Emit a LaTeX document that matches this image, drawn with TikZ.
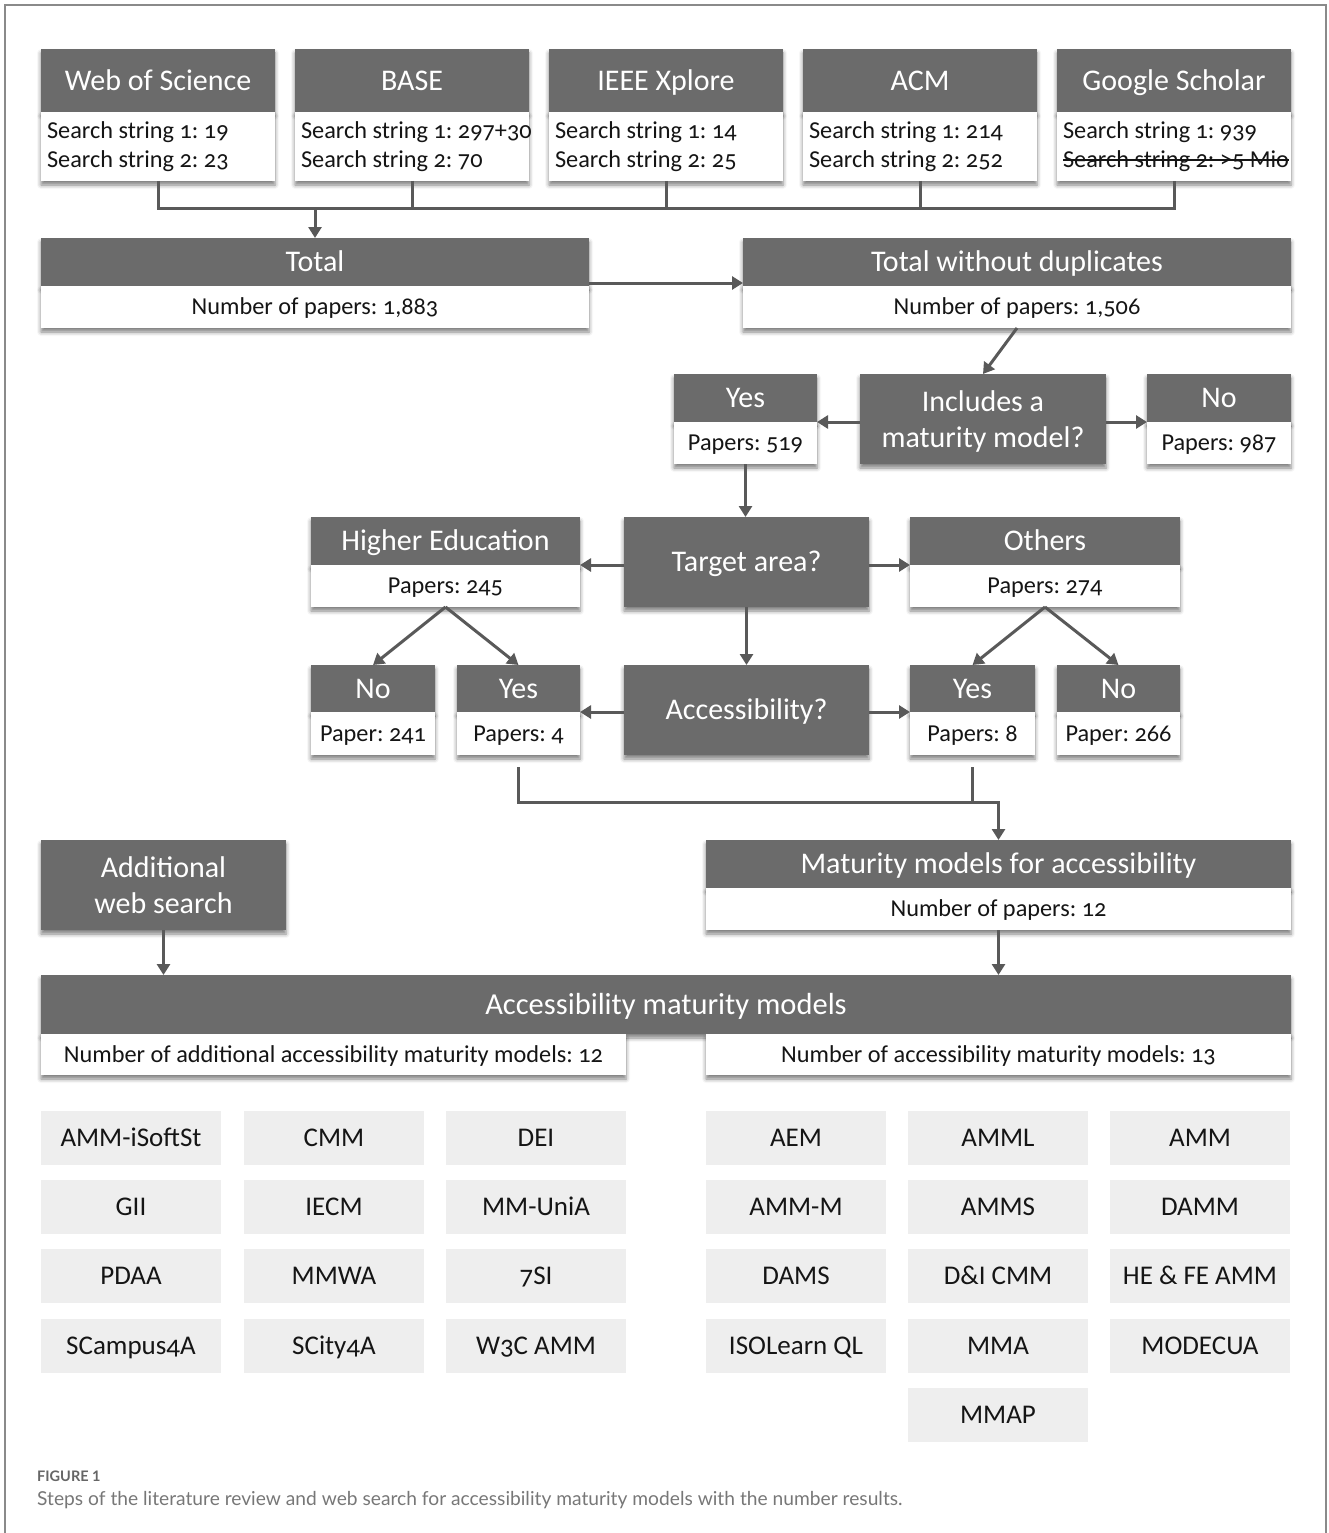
\documentclass[tikz,border=0pt]{standalone}
\usepackage{fontspec}
\setmainfont{Carlito}[Numbers=OldStyle]
\newfontfamily\capfont{Lato}
\newcommand\mystrike[1]{\leavevmode\setbox0\hbox{#1}\rlap{\rule[0.27em]{\wd0}{1.3pt}}\box0}
\frenchspacing
\usetikzlibrary{arrows.meta,shadows.blur}
\definecolor{hdrc}{HTML}{6B6B6B}
\definecolor{linec}{HTML}{595959}
\definecolor{gridc}{HTML}{EEEEEE}
\definecolor{framec}{HTML}{8A8A8A}
\definecolor{txtc}{HTML}{151515}
\definecolor{capc}{HTML}{777777}
\definecolor{figc}{HTML}{666666}
\tikzset{
 box/.style={inner sep=0pt, outer sep=0pt, anchor=north west},
 shad/.style={blur shadow={shadow xshift=0pt, shadow yshift=-4pt, shadow blur radius=4pt, shadow opacity=50}},
 hdr/.style={box, shad, fill=hdrc, text=white, align=center, font=\fontsize{30}{36}\selectfont},
 one/.style={text height=19.3pt, text depth=0pt},
 bdy/.style={box, shad, fill=white, text=txtc, align=center, font=\fontsize{24.3}{29}\selectfont},
 bone/.style={text height=15.6pt, text depth=0pt},
 gbox/.style={box, fill=gridc, text=txtc, minimum width=180pt, minimum height=54pt, text height=17.4pt, text depth=0pt, font=\fontsize{27}{30}\selectfont},
 conn/.style={draw=linec, line width=3pt},
 arr/.style={conn, -{Triangle[length=11pt,width=13pt]}},
 src/.style={bdy, minimum width=234pt, minimum height=69pt, text width=226pt, inner xsep=4pt, align=flush left},
}
\begin{document}
\begin{tikzpicture}[x=1pt,y=-1pt]
\useasboundingbox (0,0) rectangle (1328,1533);
\draw[framec, line width=1.5pt] (5,1540) -- (5,5) -- (1326,5) -- (1326,1540);

% top sources
\foreach \nm/\x/\ttl in {wos/41/Web of Science, base/295/BASE, ieee/549/IEEE Xplore, acm/803/ACM, gs/1057/Google Scholar}{
  \node[hdr, one, minimum width=234pt, minimum height=63pt] (\nm H) at (\x,49) {\ttl};
}
\node[src] (wosB) at (wosH.south west) {\hspace*{2pt}Search string 1: 19\\\hspace*{2pt}Search string 2: 23};
\node[src] (baseB) at (baseH.south west) {\hspace*{2pt}\mbox{Search string 1: 297+30}\\\hspace*{2pt}Search string 2: 70};
\node[src] (ieeeB) at (ieeeH.south west) {\hspace*{2pt}Search string 1: 14\\\hspace*{2pt}Search string 2: 25};
\node[src] (acmB) at (acmH.south west) {\hspace*{2pt}Search string 1: 214\\\hspace*{2pt}Search string 2: 252};
\node[src] (gsB) at (gsH.south west) {\hspace*{2pt}Search string 1: 939\\\hspace*{2pt}\mystrike{Search string 2: >5 Mio}};

% totals
\node[hdr, one, minimum width=548pt, minimum height=48pt] (totH) at (41,238) {Total};
\node[bdy, bone, minimum width=548pt, minimum height=42pt] (totB) at (totH.south west) {Number of papers: 1,883};
\node[hdr, one, minimum width=548pt, minimum height=48pt] (twdH) at (743,238) {Total without duplicates};
\node[bdy, bone, minimum width=548pt, minimum height=42pt] (twdB) at (twdH.south west) {Number of papers: 1,506};

% includes a maturity model
\node[hdr, minimum width=246pt, minimum height=90pt] (inc) at (860,374) {Includes a\\\raisebox{0pt}[\height][0pt]{maturity model?}};
\node[hdr, one, minimum width=143pt, minimum height=48pt] (y519H) at (674,374) {Yes};
\node[bdy, bone, minimum width=143pt, minimum height=42pt] (y519B) at (y519H.south west) {Papers: 519};
\node[hdr, one, minimum width=144pt, minimum height=48pt] (n987H) at (1147,374) {No};
\node[bdy, bone, minimum width=144pt, minimum height=42pt] (n987B) at (n987H.south west) {Papers: 987};

% target area
\node[hdr, one, minimum width=245pt, minimum height=90pt] (tgt) at (624,517) {Target area?};
\node[hdr, one, minimum width=269pt, minimum height=48pt] (heH) at (311,517) {Higher Education};
\node[bdy, bone, minimum width=269pt, minimum height=42pt] (heB) at (heH.south west) {Papers: 245};
\node[hdr, one, minimum width=270pt, minimum height=48pt] (othH) at (910,517) {Others};
\node[bdy, bone, minimum width=270pt, minimum height=42pt] (othB) at (othH.south west) {Papers: 274};

% accessibility
\node[hdr, one, minimum width=245pt, minimum height=90pt] (acc) at (624,665) {Accessibility?};
\node[hdr, one, minimum width=124pt, minimum height=47pt] (n241H) at (311,665) {No};
\node[bdy, bone, minimum width=124pt, minimum height=43pt] (n241B) at (n241H.south west) {Paper: 241};
\node[hdr, one, minimum width=123pt, minimum height=47pt] (y4H) at (457,665) {Yes};
\node[bdy, bone, minimum width=123pt, minimum height=43pt] (y4B) at (y4H.south west) {Papers: 4};
\node[hdr, one, minimum width=125pt, minimum height=47pt] (y8H) at (910,665) {Yes};
\node[bdy, bone, minimum width=125pt, minimum height=43pt] (y8B) at (y8H.south west) {Papers: 8};
\node[hdr, one, minimum width=123pt, minimum height=47pt] (n266H) at (1057,665) {No};
\node[bdy, bone, minimum width=123pt, minimum height=43pt] (n266B) at (n266H.south west) {Paper: 266};

% maturity models / additional
\node[hdr, one, minimum width=585pt, minimum height=48pt] (mmH) at (706,840) {Maturity models for accessibility};
\node[bdy, bone, minimum width=585pt, minimum height=42pt] (mmB) at (mmH.south west) {Number of papers: 12};
\node[hdr, minimum width=245pt, minimum height=90pt] (add) at (41,840) {Additional\\web search};

% accessibility maturity models
\node[hdr, one, minimum width=1250pt, minimum height=59pt, font=\fontsize{30.5}{36}\selectfont] (ammH) at (41,975) {Accessibility maturity models};
\node[bdy, bone, minimum width=585pt, minimum height=41pt] (ammL) at (41,1034) {Number of additional accessibility maturity models: 12};
\node[bdy, bone, minimum width=585pt, minimum height=41pt] (ammR) at (706,1034) {Number of accessibility maturity models: 13};

% grid
\node[gbox] (g1) at (41,1111) {AMM-iSoftSt};
\node[gbox] (g2) at (244,1111) {CMM};
\node[gbox] (g3) at (446,1111) {DEI};
\node[gbox] (g4) at (41,1180) {GII};
\node[gbox] (g5) at (244,1180) {IECM};
\node[gbox] (g6) at (446,1180) {MM-UniA};
\node[gbox] (g7) at (41,1249) {PDAA};
\node[gbox] (g8) at (244,1249) {MMWA};
\node[gbox] (g9) at (446,1249) {7SI};
\node[gbox] (g10) at (41,1319) {SCampus4A};
\node[gbox] (g11) at (244,1319) {SCity4A};
\node[gbox] (g12) at (446,1319) {W3C AMM};
\node[gbox] (r1) at (706,1111) {AEM};
\node[gbox] (r2) at (908,1111) {AMML};
\node[gbox] (r3) at (1110,1111) {AMM};
\node[gbox] (r4) at (706,1180) {AMM-M};
\node[gbox] (r5) at (908,1180) {AMMS};
\node[gbox] (r6) at (1110,1180) {DAMM};
\node[gbox] (r7) at (706,1249) {DAMS};
\node[gbox] (r8) at (908,1249) {D\&I CMM};
\node[gbox] (r9) at (1110,1249) {HE \& FE AMM};
\node[gbox] (r10) at (706,1319) {ISOLearn QL};
\node[gbox] (r11) at (908,1319) {MMA};
\node[gbox] (r12) at (1110,1319) {MODECUA};
\node[gbox] (r13) at (908,1388) {MMAP};

% caption
\node[anchor=base west, inner sep=0pt, text=figc, font=\capfont\bfseries\fontsize{14.5}{16}\selectfont] (figlab) at (37,1481) {FIGURE 1};
\node[anchor=base west, inner sep=0pt, text=capc, font=\capfont\fontsize{19.2}{22}\selectfont] (figcap) at (37,1505) {Steps of the literature review and web search for accessibility maturity models with the number results.};

% connectors
\coordinate (bus) at (316,208);
\draw[conn] (wosB.south) -- (wosB.south |- bus) -- (gsB.south |- bus) -- (gsB.south);
\draw[conn] (baseB.south) -- (baseB.south |- bus);
\draw[conn] (ieeeB.south) -- (ieeeB.south |- bus);
\draw[conn] (acmB.south) -- (acmB.south |- bus);
\draw[arr] (totH.north |- bus) -- (totH.north);
\draw[arr] ([yshift=3pt]totH.south east) -- ([yshift=3pt]twdH.south west);
\draw[arr] (twdB.south) -- (inc.north);
\draw[arr] (inc.west |- y519H.south) -- (y519H.south east);
\draw[arr] (inc.east |- n987H.south) -- (n987H.south west);
\draw[arr] (y519B.south) -- (y519B.south |- tgt.north);
\draw[arr] (tgt.west |- heH.south) -- (heH.south east);
\draw[arr] (tgt.east |- othH.south) -- (othH.south west);
\draw[arr] (tgt.south) -- (acc.north);
\draw[arr] (heB.south) -- (n241H.north);
\draw[arr] (heB.south) -- (y4H.north);
\draw[arr] (othB.south) -- (y8H.north);
\draw[arr] (othB.south) -- (n266H.north);
\draw[arr] (acc.west |- y4H.south) -- (y4H.south east);
\draw[arr] (acc.east |- y8H.south) -- (y8H.south west);
\coordinate (jn) at (998,802);
\draw[arr] ([yshift=-12pt]y4B.south) |- (mmH.north |- jn) -- (mmH.north);
\draw[conn] ([yshift=-12pt]y8B.south) -- (y8B.south |- jn);
\draw[arr] (add.south) -- (add.south |- ammH.north);
\draw[arr] (mmB.south) -- (mmB.south |- ammH.north);
\end{tikzpicture}
\end{document}
